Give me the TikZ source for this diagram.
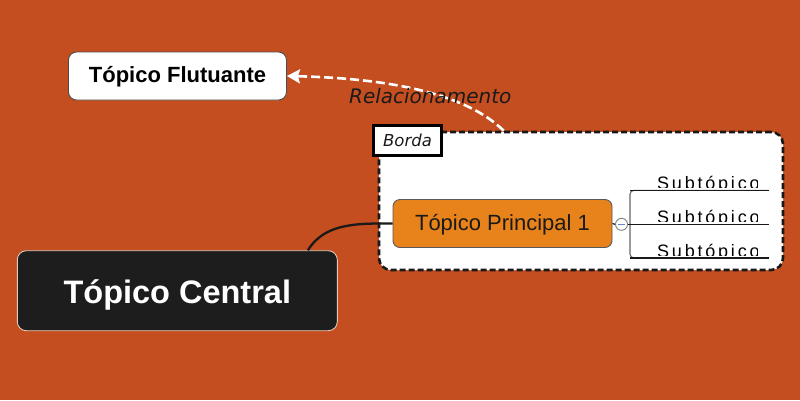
\documentclass[tikz,border=0pt]{standalone}
\usepackage{fontspec}
\setmainfont{Liberation Sans}
\newfontfamily\dejaobl{DejaVu Sans Oblique}
\newfontfamily\subfont[LetterSpace=15.5]{Liberation Sans}
\usetikzlibrary{arrows.meta,calc}
\definecolor{bgc}{HTML}{C44E1F}
\definecolor{orangec}{HTML}{E8821A}
\definecolor{darkc}{HTML}{1D1D1D}
\definecolor{txtc}{HTML}{1A1A1A}
\definecolor{minusc}{HTML}{6A80D0}
\tikzset{
  boxbase/.style={inner sep=0pt, align=center},
  floatbox/.style={boxbase, draw=black!70, line width=0.9pt, fill=white, rounded corners=8pt,
    minimum width=218pt, minimum height=48pt,
    font=\fontsize{22}{22}\selectfont\bfseries, text=black, text height=16pt, text depth=2.6pt},
  centralbox/.style={boxbase, draw={rgb,255:red,225;green,200;blue,185}, line width=0.9pt, fill=darkc, rounded corners=9pt,
    minimum width=320pt, minimum height=80pt,
    font=\fontsize{32.5}{32.5}\selectfont\bfseries, text=white, text height=25pt, text depth=0.4pt},
  mainbox/.style={boxbase, draw=black!65, line width=0.9pt, fill=orangec, rounded corners=7pt,
    minimum width=219pt, minimum height=48pt,
    font=\fontsize{22}{22}\selectfont, text=txtc, text height=16pt, text depth=1.6pt},
  bordertag/.style={boxbase, draw=black, line width=3pt, fill=white,
    minimum width=68pt, minimum height=30pt,
    font=\dejaobl\fontsize{16.5}{16.5}\selectfont, text=txtc, text height=13.4pt, text depth=0pt},
  borderframe/.style={draw=black!90, line width=2.6pt, dash pattern=on 6pt off 3pt, fill=white, rounded corners=12pt},
  relarrow/.style={draw=white, line width=2.6pt, dash pattern=on 9pt off 4pt,
    -{Stealth[length=13pt,width=14pt,inset=2pt,fill=white]}},
  rellabel/.style={inner sep=0pt, anchor=base, font=\dejaobl\fontsize{20}{20}\selectfont, text=txtc},
  subtext/.style={inner sep=0pt, anchor=base west, font=\subfont\fontsize{18}{18}\selectfont, text=black},
  subline/.style={draw=black!90, line width=1.2pt},
  conn/.style={draw=txtc, line width=2.3pt},
}
\begin{document}
\begin{tikzpicture}[x=1pt,y=-1pt]
\fill[bgc] (0,0) rectangle (800,400);
\useasboundingbox (0,0) rectangle (800,400);

% border frame
\node[borderframe, minimum width=404pt, minimum height=138pt, inner sep=0pt] (frame) at (581,201) {};
\node[bordertag] (borda) at (407.5,140) {Borda};

% nodes
\node[floatbox] (flo) at (177.5,76) {Tópico Flutuante};
\node[centralbox] (central) at (177.3,290.7) {Tópico Central};
\node[mainbox] (main) at (502.5,223.5) {Tópico Principal 1};

% relationship arrow
\coordinate (relstart) at ($(frame.north west)+(126,0)$);
\draw[relarrow] (relstart) .. controls (460,88) and (370,78) .. (flo.east);
\node[rellabel] (rel) at (430.3,103.3) {Relacionamento};

% central connector
\coordinate (cstart) at ($(central.north west)+(291,0)$);
\draw[conn] (cstart) .. controls (322,228) and (345,223.5) .. (380,223.5) -- (main.west);

% collapse circle
\node[circle, draw=black!50, line width=0.9pt, fill=white, minimum size=12pt, inner sep=0pt] (knob) at (621.5,224.3) {};
\draw[minusc, line width=1pt] ($(knob.center)+(-3.5,0)$) -- ($(knob.center)+(3.5,0)$);
\draw[subline] (main.east) -- (knob.west);

% bracket and subtopics
\coordinate (b1) at (630,190.3);
\coordinate (b2) at (630,224.3);
\coordinate (b3) at (630,258);
\coordinate (e1) at (769,190.3);
\coordinate (e2) at (769,224.3);
\coordinate (e3) at (769,258);
\draw[draw=black!60, line width=1.1pt, rounded corners=4pt] (e1) -- (b1) -- (b3) -- (e3);
\draw[subline] (b1) -- (e1);
\draw[subline] (knob.east) -- (b2) -- (e2);
\draw[subline] (b3) -- (e3);

\begin{scope}
\clip (630,170) rectangle (757,187.6);
\node[subtext] (sub1) at (657,189.5) {Subtópico};
\end{scope}
\begin{scope}
\clip (630,204) rectangle (757,221.6);
\node[subtext] (sub2) at (657,223.5) {Subtópico};
\end{scope}
\begin{scope}
\clip (630,238) rectangle (757,255.3);
\node[subtext] (sub3) at (657,257.2) {Subtópico};
\end{scope}
\end{tikzpicture}
\end{document}
